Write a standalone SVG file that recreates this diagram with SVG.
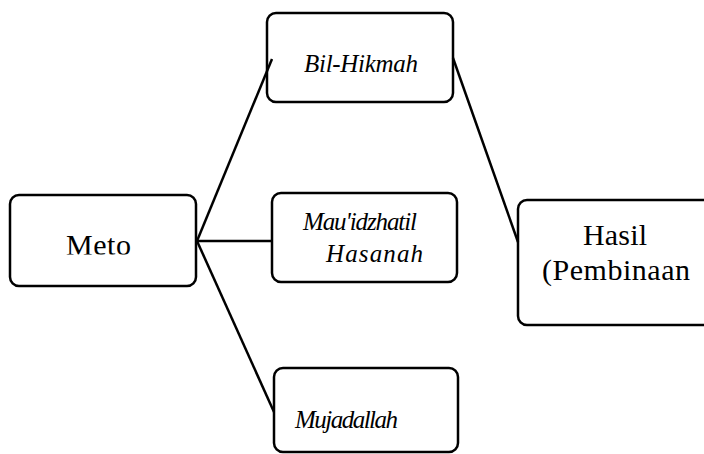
<svg xmlns="http://www.w3.org/2000/svg" width="704" height="454" viewBox="0 0 704 454">
<style>
.box{fill:#fff;stroke:#000;stroke-width:2.5}
.c{fill:none;stroke:#000;stroke-width:2.5}
</style>
<defs>
<clipPath id="metoClip"><rect x="10" y="195" width="186" height="59.5"/></clipPath>
</defs>
<rect width="704" height="454" fill="#fff"/>
<g font-family="Liberation Serif, Times New Roman, DejaVu Serif, serif" fill="#000">
<g id="meto">
<rect class="box" x="10" y="195" width="186" height="91" rx="9"/>
<text font-size="30" x="66" y="255" textLength="65" clip-path="url(#metoClip)">Meto</text>
</g>
<g id="bil-hikmah">
<rect class="box" x="267" y="13" width="186" height="89" rx="9"/>
<text font-size="25" font-style="italic" x="304" y="72" textLength="114">Bil-Hikmah</text>
</g>
<g id="mauidzhatil">
<rect class="box" x="272" y="193" width="185" height="89" rx="9"/>
<text font-size="25" font-style="italic" x="303" y="230" textLength="114">Mau'idzhatil</text>
<text font-size="25" font-style="italic" x="326" y="262" textLength="97">Hasanah</text>
</g>
<g id="mujadallah">
<rect class="box" x="274" y="368" width="184" height="84" rx="9"/>
<text font-size="25" font-style="italic" x="295" y="428" textLength="103">Mujadallah</text>
</g>
<g id="hasil">
<rect class="box" x="518" y="200" width="200" height="125" rx="9"/>
<text font-size="30" x="583" y="245" textLength="64">Hasil</text>
<text font-size="30" x="542" y="280" textLength="148">(Pembinaan</text>
</g>
</g>
<g id="connectors">
<line class="c" x1="197" y1="241" x2="272" y2="59"/>
<line class="c" x1="197" y1="241" x2="272" y2="241"/>
<line class="c" x1="197" y1="241" x2="274" y2="412"/>
<line class="c" x1="453" y1="58" x2="518" y2="242"/>
</g>
</svg>
